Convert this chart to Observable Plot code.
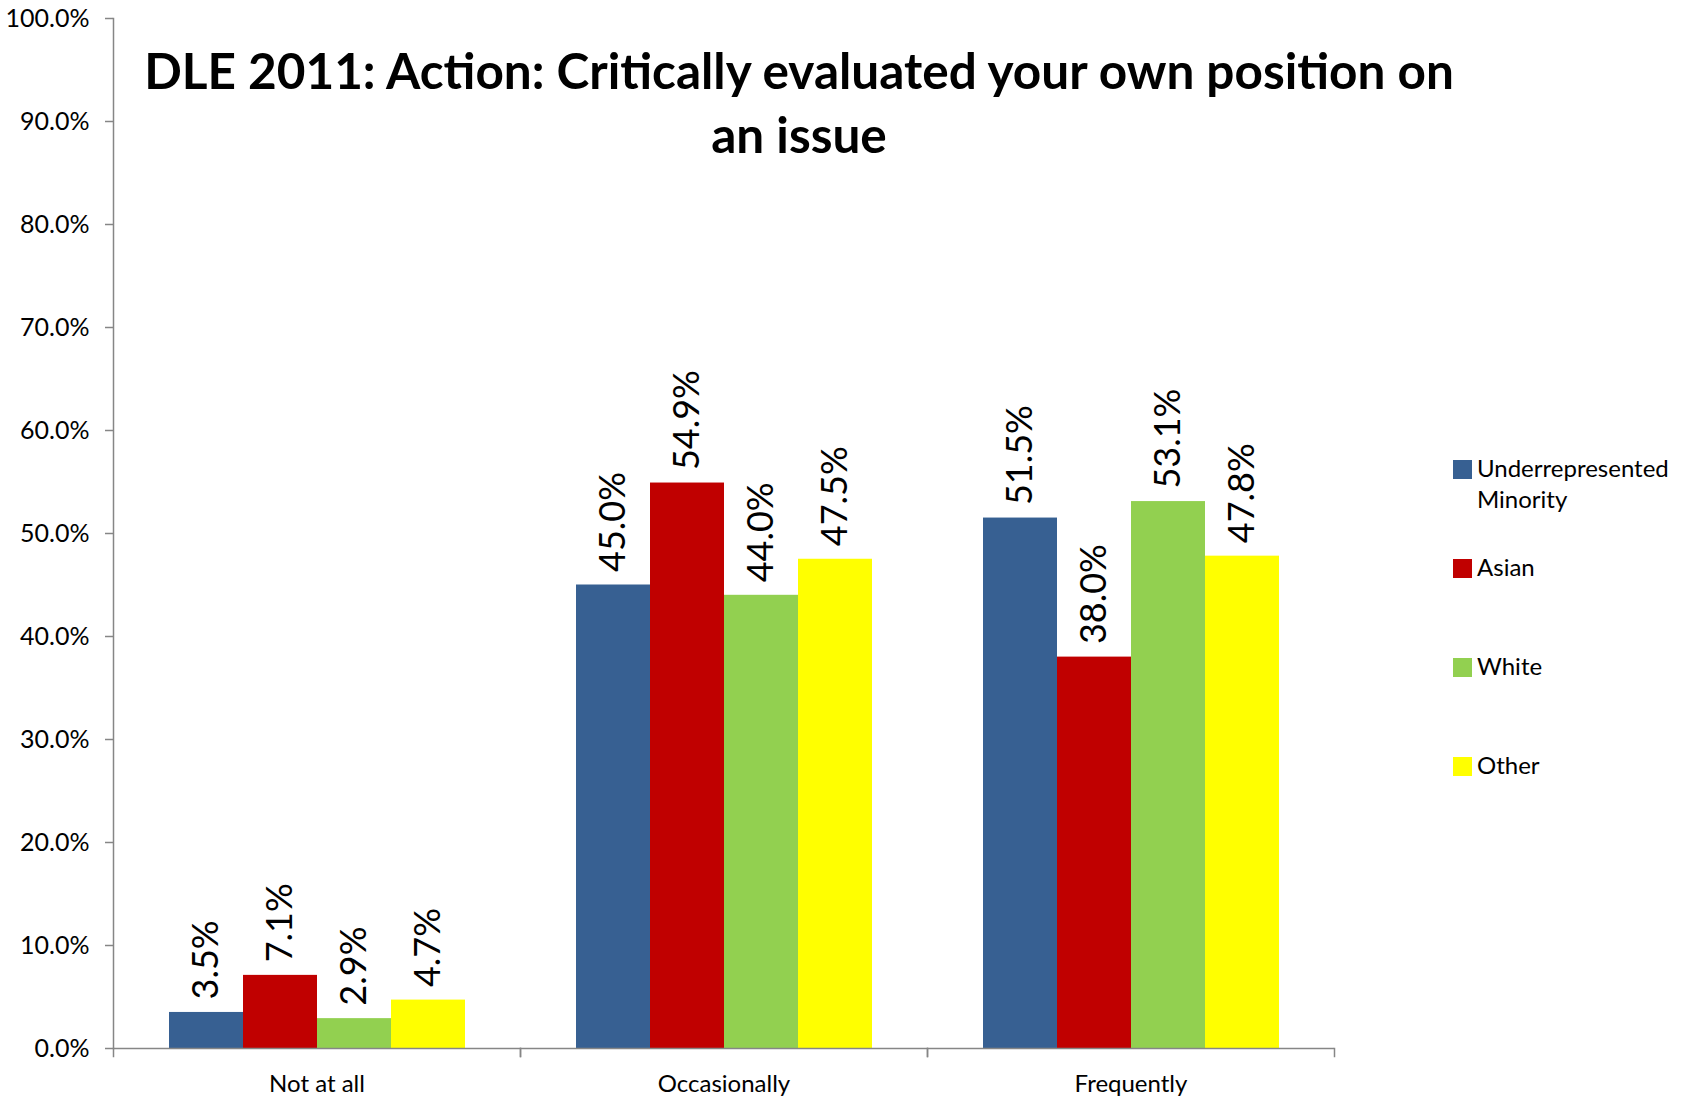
<!DOCTYPE html>
<html>
<head>
<meta charset="utf-8">
<script src="https://cdn.jsdelivr.net/npm/d3@7"></script>
<script src="https://cdn.jsdelivr.net/npm/@observablehq/plot@0.6"></script>
<style>
  body { margin: 0; background: #fff; font-family: Lato, "Open Sans", sans-serif; }
  #wrap { position: relative; width: 1690px; height: 1097px; background: #fff; }
  #chart svg { display: block; }
  #title { position: absolute; left: 0; width: 1598px; top: 38px; text-align: center;
           font-weight: 700; font-size: 49.5px; line-height: 64px; color: #000; }
  .leg { position: absolute; left: 1453px; }
  .sw { position: absolute; left: 0; top: 0; width: 19px; height: 19px; }
  .lt { position: absolute; left: 24px; top: -8px; font-size: 24px; line-height: 31px; color: #000; white-space: nowrap; }
</style>
</head>
<body>
<div id="wrap">
  <div id="chart"></div>
  <div id="title"></div>
  <div id="legend"></div>
</div>
<script>
// ---- data ----
const titleLines = ["DLE 2011: Action: Critically evaluated your own position on", "an issue"];
const categories = ["Not at all", "Occasionally", "Frequently"];
const series = ["Underrepresented Minority", "Asian", "White", "Other"];
const legendLabels = [["Underrepresented", "Minority"], ["Asian"], ["White"], ["Other"]];
const colors = ["#376092", "#C00000", "#92D050", "#FFFF00"];
const underrepresented = [3.5, 45.0, 51.5];
const asian = [7.1, 54.9, 38.0];
const white = [2.9, 44.0, 53.1];
const other = [4.7, 47.5, 47.8];
const yTicks = [0, 10, 20, 30, 40, 50, 60, 70, 80, 90, 100];

const seriesValues = [underrepresented, asian, white, other];
const data = [];
categories.forEach((c, i) => series.forEach((s, j) => data.push({category: c, series: s, value: seriesValues[j][i]})));

const W = 1690, H = 1097, mL = 113, mR = 356, mT = 18, mB = 49;
const plotH = H - mT - mB;
const axisGray = "#868686";
const pct = d => d.toFixed(1) + "%";

const chart = Plot.plot({
  width: W, height: H,
  marginLeft: mL, marginRight: mR, marginTop: mT, marginBottom: mB,
  style: {fontFamily: "Lato, 'Open Sans', sans-serif", background: "white", color: "#000"},
  fx: {domain: categories, padding: 0, label: null},
  x: {domain: series, paddingInner: 0, paddingOuter: 0.75, axis: null},
  y: {domain: [0, 100], label: null},
  color: {domain: series, range: colors},
  marks: [
    Plot.barY(data, {fx: "category", x: "series", y: "value", fill: "series"}),
    Plot.text(data, {fx: "category", x: "series", y: "value", text: d => pct(d.value),
      rotate: -90, textAnchor: "start", dy: -13, fontSize: 36, fill: "#000"}),
    Plot.ruleY([0], {stroke: axisGray, strokeWidth: 1.5}),
    Plot.frame({anchor: "left", facetAnchor: "left", stroke: axisGray, strokeWidth: 1.5}),
    Plot.frame({anchor: "left", insetTop: plotH, insetBottom: -8, stroke: axisGray, strokeWidth: 1.5}),
    Plot.frame({anchor: "right", insetTop: plotH, insetBottom: -8, stroke: axisGray, strokeWidth: 1.5}),
    Plot.axisY(yTicks, {tickSize: 8, tickPadding: 16, tickFormat: pct, fontSize: 25, label: null,
      stroke: axisGray, fill: "#000", strokeWidth: 1.5}),
    Plot.axisFx({anchor: "bottom", tickSize: 0, tickPadding: 26, fontSize: 24, label: null, fill: "#000"})
  ]
});
document.getElementById("chart").appendChild(chart);

document.getElementById("title").innerHTML = titleLines.join("<br>");

const legend = document.getElementById("legend");
series.forEach((s, i) => {
  const item = document.createElement("div");
  item.className = "leg";
  item.style.top = (460 + i * 99) + "px";
  const sw = document.createElement("div");
  sw.className = "sw";
  sw.style.background = colors[i];
  const lt = document.createElement("div");
  lt.className = "lt";
  lt.innerHTML = legendLabels[i].join("<br>");
  item.appendChild(sw);
  item.appendChild(lt);
  legend.appendChild(item);
});
</script>
</body>
</html>
